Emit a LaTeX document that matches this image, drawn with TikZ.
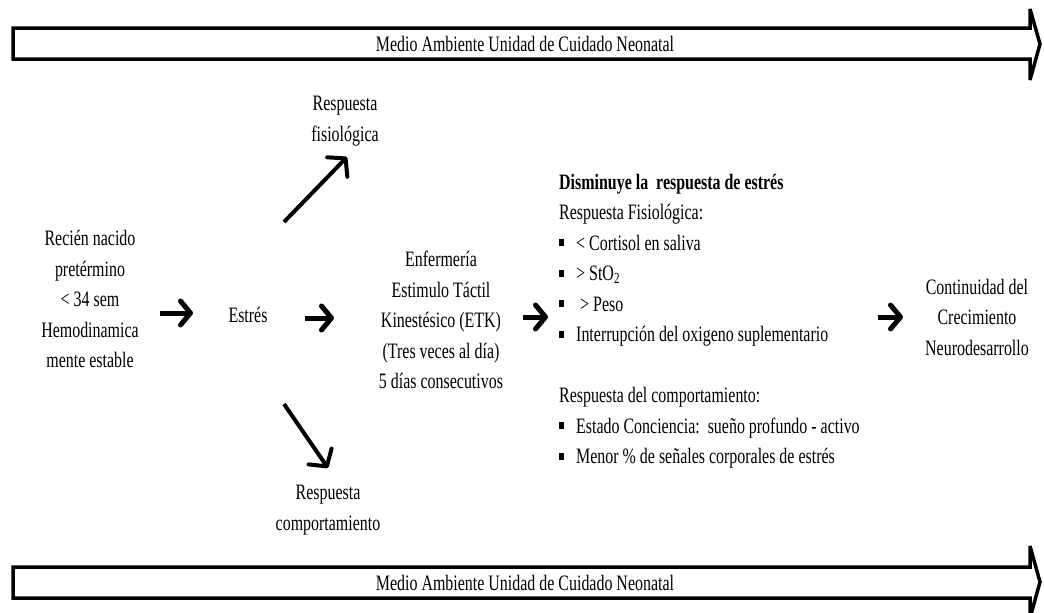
\documentclass[tikz,border=0pt]{standalone}
\usepackage{fontspec}
\setmainfont{Liberation Serif}[FakeStretch=0.725]
\usetikzlibrary{arrows.meta}
\newcommand\bul{\makebox[17pt][l]{\raisebox{4pt}{\rule{5pt}{7pt}}}}
\begin{document}
\begin{tikzpicture}[x=1pt,y=-1pt,
  txt/.style={align=center,font=\fontsize{22}{30.5}\selectfont,inner sep=0pt},
  bigarrow/.style={draw=black,line width=3.5pt,fill=white,line join=miter,miter limit=4},
  fat/.style={line width=5pt,-{Straight Barb[length=10pt,width=24pt,round]}},
  slim/.style={line width=4pt,-{Straight Barb[length=12pt,width=28pt,round]}},
]
\useasboundingbox[fill=white] (0,0) rectangle (1044,613);

% environment arrows
\draw[bigarrow] (13,28) -- (1030,28) -- (1030,9) -- (1040,44) -- (1030,80) -- (1030,59) -- (13,59) -- cycle;
\node[txt] (envtop) at (525,44) {Medio Ambiente Unidad de Cuidado Neonatal};
\draw[bigarrow] (13,567) -- (1030,567) -- (1030,546) -- (1040,582) -- (1030,618) -- (1030,598) -- (13,598) -- cycle;
\node[txt] (envbot) at (525,583) {Medio Ambiente Unidad de Cuidado Neonatal};

% nodes
\node[txt] (rn) at (90,299) {Recién nacido\\pretérmino\\< 34 sem\\Hemodinamica\\mente estable};
\node[txt] (estres) at (248,315) {Estrés};
\node[txt] (fis) at (345,121) {Respuesta\\fisiológica};
\node[txt] (comp) at (328,510) {Respuesta\\comportamiento};
\node[txt] (enf) at (441,320) {Enfermería\\Estimulo Táctil\\Kinestésico (ETK)\\(Tres veces al día)\\5 días consecutivos};
\node[txt,align=left,anchor=west] (res) at (559,321) {%
\textbf{Disminuye la\ \ respuesta de estrés}\\
Respuesta Fisiológica:\\
\bul< Cortisol en saliva\\
\bul> StO\textsubscript{2}\\
\bul\hspace{4pt}> Peso\\
\bul Interrupción del oxigeno suplementario\\
\mbox{}\\
Respuesta del comportamiento:\\
\bul Estado Conciencia:\ \ sueño profundo - activo\\
\bul Menor \% de señales corporales de estrés};
\node[txt] (cont) at (977,317) {Continuidad del\\Crecimiento\\Neurodesarrollo};

% connector end points
\coordinate (a1s) at (160,313); \coordinate (a1e) at (193,313);
\coordinate (a2s) at (305,318); \coordinate (a2e) at (334,318);
\coordinate (a3s) at (523,317); \coordinate (a3e) at (548,317);
\coordinate (a4s) at (878,317); \coordinate (a4e) at (903,317);
\coordinate (u1s) at (284,222); \coordinate (u1e) at (347,157);
\coordinate (d1s) at (284,404); \coordinate (d1e) at (328,468);

\draw[fat] (a1s) -- (a1e);
\draw[fat] (a2s) -- (a2e);
\draw[fat] (a3s) -- (a3e);
\draw[fat] (a4s) -- (a4e);
\draw[slim] (u1s) -- (u1e);
\draw[slim] (d1s) -- (d1e);
\end{tikzpicture}
\end{document}
